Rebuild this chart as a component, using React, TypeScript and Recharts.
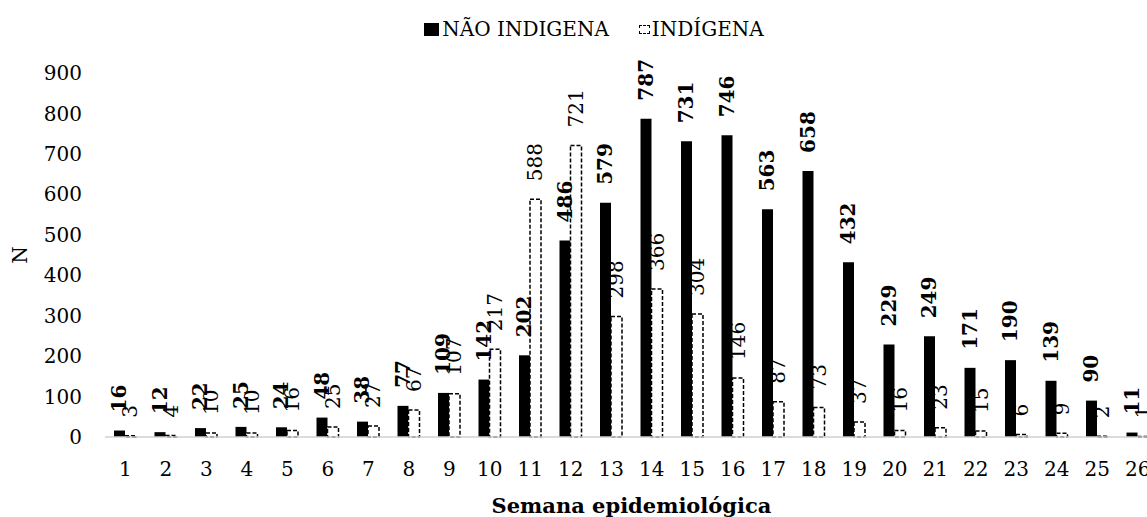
import React from 'react';
import { BarChart, Bar, XAxis, YAxis, LabelList, Label } from 'recharts';

const semanas = ['1', '2', '3', '4', '5', '6', '7', '8', '9', '10', '11', '12', '13', '14', '15', '16', '17', '18', '19', '20', '21', '22', '23', '24', '25', '26'];
const naoIndigena = [16, 12, 22, 25, 24, 48, 38, 77, 109, 142, 202, 486, 579, 787, 731, 746, 563, 658, 432, 229, 249, 171, 190, 139, 90, 11];
const indigena = [3, 4, 10, 10, 16, 25, 27, 67, 107, 217, 588, 721, 298, 366, 304, 146, 87, 73, 37, 16, 23, 15, 6, 9, 2, 1];
const yTicks = [0, 100, 200, 300, 400, 500, 600, 700, 800, 900];

const data = semanas.map((semana, i) => ({
    semana,
    naoIndigena: naoIndigena[i],
    indigena: indigena[i],
}));

const FONT = '"DejaVu Serif", serif';

const verticalLabel = (bold: boolean) => (props: any) => {
    const { x, y, width, value } = props;
    const cx = Number(x) + Number(width) / 2;
    const ty = Number(y) - 18;
    return (
        <text
            x={cx}
            y={ty}
            transform={`rotate(-90 ${cx} ${ty})`}
            textAnchor="start"
            dominantBaseline="central"
            fontFamily={FONT}
            fontSize={20}
            fontWeight={bold ? 'bold' : 'normal'}
            fill="#000"
        >
            {value}
        </text>
    );
};

const App: React.FC = () => {
    return (
        <div style={{ position: 'fixed', left: 0, top: 0, width: 1147, height: 517, overflow: 'hidden', background: '#fff' }}>
            <div style={{ position: 'relative', width: 1180, height: 517 }}>
                <div
                    style={{
                        position: 'absolute',
                        top: 17,
                        left: 0,
                        width: 1188,
                        display: 'flex',
                        justifyContent: 'center',
                        alignItems: 'center',
                        fontFamily: FONT,
                        fontSize: 20,
                        lineHeight: '24px',
                        color: '#000',
                    }}
                >
                    <span style={{ display: 'inline-block', width: 15, height: 13, background: '#000', marginRight: 3 }} />
                    <span>NÃO INDIGENA</span>
                    <span
                        style={{
                            display: 'inline-block',
                            width: 9,
                            height: 7,
                            border: '1.5px dashed #000',
                            marginLeft: 30,
                            marginRight: 2,
                        }}
                    />
                    <span>INDÍGENA</span>
                </div>
                <BarChart
                    width={1180}
                    height={517}
                    data={data}
                    margin={{ top: 73, right: 22, bottom: 0, left: 0 }}
                    barGap={0}
                    barSize={11}
                >
                    <XAxis
                        dataKey="semana"
                        height={80}
                        tickSize={0}
                        tickMargin={25}
                        tickLine={false}
                        axisLine={{ stroke: '#d0d0d0', strokeWidth: 1.5 }}
                        tick={{ fill: '#000', fontFamily: FONT, fontSize: 20 }}
                        interval={0}
                    >
                        <Label
                            value="Semana epidemiológica"
                            position="insideBottom"
                            offset={4}
                            fill="#000"
                            fontFamily={FONT}
                            fontSize={21}
                            fontWeight="bold"
                        />
                    </XAxis>
                    <YAxis
                        width={105}
                        domain={[0, 900]}
                        ticks={yTicks}
                        tickSize={0}
                        tickMargin={23}
                        tickLine={false}
                        axisLine={false}
                        tick={{ fill: '#000', fontFamily: FONT, fontSize: 20 }}
                    >
                        <Label
                            content={(props: any) => {
                                const vb = props.viewBox || { x: 0, y: 73, width: 105, height: 364 };
                                const lx = vb.x + 20;
                                const ly = vb.y + vb.height / 2;
                                return (
                                    <text
                                        x={lx}
                                        y={ly}
                                        transform={`rotate(-90 ${lx} ${ly})`}
                                        textAnchor="middle"
                                        dominantBaseline="central"
                                        fontFamily={FONT}
                                        fontSize={20}
                                        fill="#000"
                                    >
                                        N
                                    </text>
                                );
                            }}
                        />
                    </YAxis>
                    <Bar dataKey="naoIndigena" name="NÃO INDIGENA" fill="#000" isAnimationActive={false}>
                        <LabelList dataKey="naoIndigena" content={verticalLabel(true)} />
                    </Bar>
                    <Bar
                        dataKey="indigena"
                        name="INDÍGENA"
                        fill="#fff"
                        stroke="#000"
                        strokeWidth={1.5}
                        strokeDasharray="4 2"
                        isAnimationActive={false}
                    >
                        <LabelList dataKey="indigena" content={verticalLabel(false)} />
                    </Bar>
                </BarChart>
            </div>
        </div>
    );
};

export default App;
